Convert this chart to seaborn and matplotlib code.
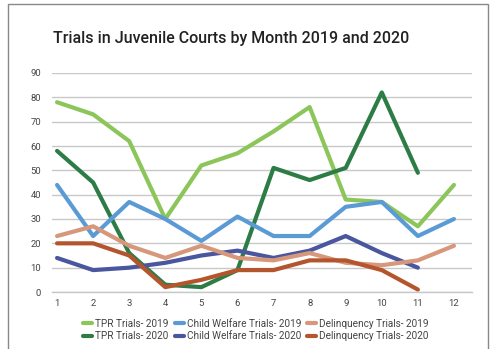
import numpy as np
import pandas as pd
import matplotlib
matplotlib.use("Agg")
import matplotlib.pyplot as plt
import seaborn as sns
from matplotlib.patches import Rectangle

months = list(range(1, 13))

tpr_2019 = [78, 73, 62, 30, 52, 57, 66, 76, 38, 37, 27, 44]
tpr_2020 = [58, 45, 16, 3, 2, 9, 51, 46, 51, 82, 49]
cw_2019 = [44, 23, 37, 30, 21, 31, 23, 23, 35, 37, 23, 30]
cw_2020 = [14, 9, 10, 12, 15, 17, 14, 17, 23, 16, 10]
del_2019 = [23, 27, 19, 14, 19, 14, 13, 16, 12, 11, 13, 19]
del_2020 = [20, 20, 15, 2, 5, 9, 9, 13, 13, 9, 1]

series = {
    "TPR Trials- 2019": tpr_2019,
    "TPR Trials- 2020": tpr_2020,
    "Child Welfare Trials- 2019": cw_2019,
    "Child Welfare Trials- 2020": cw_2020,
    "Delinquency Trials- 2019": del_2019,
    "Delinquency Trials- 2020": del_2020,
}
colors = {
    "TPR Trials- 2019": "#8cc65a",
    "TPR Trials- 2020": "#2d7c45",
    "Child Welfare Trials- 2019": "#5b9bd5",
    "Child Welfare Trials- 2020": "#4a569e",
    "Delinquency Trials- 2019": "#d6977b",
    "Delinquency Trials- 2020": "#b4552e",
}

rows = []
for name, vals in series.items():
    for m, v in zip(months, vals):
        rows.append({"Month": m, "Trials": v, "Series": name})
df = pd.DataFrame(rows)

sns.set_style("white")
plt.rcParams["font.family"] = ["Roboto", "DejaVu Sans"]

fig = plt.figure(figsize=(4.91, 3.49), dpi=100)
ax = fig.add_axes([52 / 491, 1 - 292 / 349, 420 / 491, (292 - 73) / 349])

sns.lineplot(data=df, x="Month", y="Trials", hue="Series", palette=colors,
             hue_order=list(series.keys()), linewidth=3.0, ax=ax, legend=False)

ax.set_xlim(0.86, 12.5)
ax.set_ylim(0, 90)
ax.set_xticks(months)
ax.set_yticks(range(0, 91, 10))
ax.set_xlabel("")
ax.set_ylabel("")
ax.yaxis.grid(True, color="#c8c8c8", linewidth=1)
ax.set_axisbelow(True)
for s in ["top", "right", "left"]:
    ax.spines[s].set_visible(False)
ax.spines["bottom"].set_color("#c8c8c8")
ax.spines["bottom"].set_linewidth(1)
ax.tick_params(axis="both", length=0, labelsize=6.8, colors="#444444")
ax.tick_params(axis="y", pad=8)
ax.tick_params(axis="x", pad=5)

fig.text(53 / 491, 1 - 38 / 349, "Trials in Juvenile Courts by Month 2019 and 2020",
         fontsize=11.5, fontweight="medium", color="#222222", va="center", ha="left")

handles = [plt.Line2D([], [], color=colors[n], linewidth=3) for n in series]
fig.legend(handles, list(series.keys()), ncol=3, loc="center",
           bbox_to_anchor=(256 / 491, 1 - 330 / 349), frameon=False,
           fontsize=7.2, handlelength=0.9, handletextpad=0.3, columnspacing=0.6,
           labelspacing=0.25, labelcolor="#444444")

fig.patches.append(Rectangle((8 / 491, -0.1), 480 / 491, 1.1 - 4 / 349,
                             transform=fig.transFigure, fill=False,
                             edgecolor="#888888", linewidth=1))

fig.savefig("out.png", dpi=100)
